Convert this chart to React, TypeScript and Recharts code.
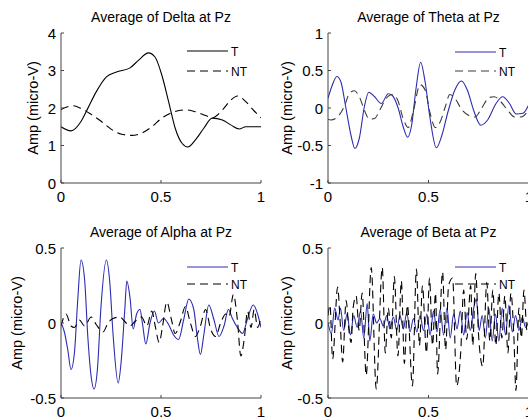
import React from 'react';
import { LineChart, Line, XAxis, YAxis, Legend } from 'recharts';

type P = [number, number];

const xTicks = [0, 0.5, 1];
const deltaTicks = [0, 1, 2, 3, 4];
const thetaTicks = [-1, -0.5, 0, 0.5, 1];
const alphaTicks = [-0.5, 0, 0.5];
const betaTicks = [-0.5, 0, 0.5];

const titles = ['Average of Delta at Pz', 'Average of Theta at Pz', 'Average of Alpha at Pz', 'Average of Beta at Pz'];
const yLabel = 'Amp (micro-V)';
const seriesNames = ['T', 'NT'];

const deltaT: P[] = [[0,1.5],[0.05,1.39],[0.1,1.64],[0.134,1.99],[0.176,2.43],[0.227,2.83],[0.277,2.96],[0.345,3.07],[0.387,3.27],[0.437,3.47],[0.47,3.36],[0.504,2.88],[0.538,2.17],[0.571,1.46],[0.605,1.06],[0.635,0.96],[0.672,1.15],[0.714,1.46],[0.756,1.73],[0.807,1.68],[0.849,1.55],[0.891,1.44],[0.924,1.5],[0.958,1.5],[1,1.5]];
const deltaNT: P[] = [[0,1.96],[0.059,2.06],[0.1,1.99],[0.151,1.83],[0.202,1.64],[0.252,1.43],[0.303,1.3],[0.353,1.27],[0.403,1.33],[0.454,1.5],[0.504,1.73],[0.555,1.88],[0.622,1.95],[0.672,1.9],[0.723,1.8],[0.756,1.74],[0.807,1.95],[0.849,2.21],[0.882,2.32],[0.924,2.17],[0.966,1.92],[1,1.74]];

const thetaT: P[] = [[0,0.13],[0.022,0.31],[0.044,0.42],[0.064,0.35],[0.089,0],[0.114,-0.36],[0.134,-0.54],[0.156,-0.4],[0.181,0.02],[0.203,0.21],[0.232,0.15],[0.265,0.06],[0.3,0.19],[0.319,0.17],[0.349,0],[0.374,-0.25],[0.396,-0.39],[0.416,-0.23],[0.438,0.26],[0.461,0.61],[0.483,0.35],[0.508,-0.14],[0.539,-0.53],[0.567,-0.36],[0.597,-0.05],[0.631,0.24],[0.664,0.36],[0.693,0.24],[0.727,-0.05],[0.76,-0.23],[0.794,-0.16],[0.836,0.06],[0.869,0.15],[0.903,0.06],[0.936,-0.08],[0.97,-0.07],[1,0.05]];
const thetaNT: P[] = [[0,-0.15],[0.013,-0.16],[0.047,-0.12],[0.081,0.02],[0.106,0.19],[0.131,0.23],[0.156,0.15],[0.181,-0.03],[0.206,-0.15],[0.232,-0.14],[0.257,-0.03],[0.29,0.13],[0.32,0.18],[0.346,0.11],[0.374,-0.14],[0.399,-0.26],[0.424,-0.05],[0.458,0.31],[0.483,0.24],[0.508,-0.07],[0.534,-0.26],[0.559,-0.18],[0.584,0.02],[0.606,0.18],[0.631,0.13],[0.668,-0.03],[0.701,-0.1],[0.732,-0.12],[0.765,0],[0.802,0.14],[0.827,0.15],[0.861,0.08],[0.894,-0.03],[0.928,-0.12],[0.961,-0.12],[0.995,-0.04]];

const alphaT: P[] = [[0,0],[0.017,-0.06],[0.034,-0.18],[0.05,-0.31],[0.067,-0.2],[0.084,0.16],[0.1,0.42],[0.118,0.29],[0.134,-0.09],[0.151,-0.36],[0.165,-0.44],[0.182,-0.31],[0.2,0.11],[0.227,0.42],[0.244,0.27],[0.26,-0.07],[0.286,-0.4],[0.3,-0.27],[0.319,0.09],[0.329,0.28],[0.345,0.17],[0.361,-0.04],[0.378,0.06],[0.395,0.09],[0.408,-0.01],[0.424,-0.14],[0.445,0],[0.467,0.08],[0.487,0],[0.513,0.03],[0.538,-0.01],[0.563,-0.08],[0.588,-0.11],[0.613,0.02],[0.639,0.16],[0.664,0.09],[0.681,-0.09],[0.697,-0.21],[0.714,-0.08],[0.739,0.12],[0.765,0.02],[0.79,-0.09],[0.815,-0.02],[0.837,0.09],[0.857,0.03],[0.882,-0.03],[0.908,-0.07],[0.933,0.03],[0.961,0.12],[0.983,0.06],[1,-0.03]];
const alphaNT: P[] = [[0,-0.02],[0.025,0.06],[0.05,-0.02],[0.067,-0.03],[0.092,0.02],[0.118,-0.02],[0.151,0.04],[0.176,-0.01],[0.21,-0.06],[0.235,0],[0.26,0.03],[0.294,0.04],[0.319,0.01],[0.345,-0.02],[0.37,0.01],[0.403,0.04],[0.429,-0.02],[0.454,0.08],[0.471,-0.02],[0.491,-0.13],[0.508,-0.02],[0.529,0.14],[0.551,0.03],[0.571,-0.07],[0.597,0.01],[0.622,0.11],[0.647,0],[0.672,-0.09],[0.697,-0.02],[0.723,0.09],[0.748,-0.04],[0.773,-0.09],[0.798,0],[0.824,0.06],[0.84,0.04],[0.862,0.19],[0.882,0.02],[0.899,-0.22],[0.916,-0.11],[0.933,0.08],[0.95,-0.03],[0.966,0.09],[0.983,-0.03],[1,0.04]];

const betaT: P[] = [[0,0],[0.017,-0.07],[0.033,0.1],[0.05,0.02],[0.062,0.1],[0.078,-0.05],[0.095,0.06],[0.112,-0.08],[0.128,0.05],[0.145,-0.03],[0.162,0.08],[0.178,-0.1],[0.195,0.13],[0.208,-0.12],[0.225,0.06],[0.242,0],[0.258,0.03],[0.275,-0.02],[0.292,0.05],[0.308,-0.04],[0.325,0.04],[0.342,-0.05],[0.358,0.05],[0.375,-0.04],[0.392,0.07],[0.408,-0.06],[0.425,0.03],[0.442,-0.06],[0.458,0.05],[0.475,-0.05],[0.492,0.06],[0.508,-0.08],[0.525,0.08],[0.542,-0.06],[0.558,0.09],[0.575,-0.08],[0.592,0.1],[0.608,-0.1],[0.625,0.06],[0.642,-0.04],[0.658,0.08],[0.675,-0.08],[0.692,0.07],[0.708,-0.05],[0.725,0.1],[0.738,0.16],[0.752,-0.05],[0.767,0.05],[0.783,-0.1],[0.8,0.1],[0.817,-0.12],[0.833,0.06],[0.85,-0.12],[0.867,0.1],[0.883,-0.08],[0.9,0.12],[0.917,-0.06],[0.933,0.05],[0.95,-0.05],[0.967,0.04],[0.983,-0.03],[1,0.02]];
const betaNT: P[] = [[0,0.05],[0.01,0.12],[0.023,-0.24],[0.048,0.24],[0.06,0.02],[0.073,-0.26],[0.09,0.15],[0.105,-0.06],[0.115,-0.13],[0.125,0.1],[0.14,0.18],[0.155,-0.05],[0.17,0.2],[0.19,-0.35],[0.215,0.37],[0.24,-0.44],[0.27,0.37],[0.285,-0.2],[0.3,0.1],[0.315,-0.1],[0.33,0.31],[0.348,-0.22],[0.365,0.28],[0.38,-0.27],[0.395,0.12],[0.42,-0.42],[0.44,0.36],[0.455,-0.15],[0.47,0.25],[0.49,-0.2],[0.505,0.3],[0.52,-0.15],[0.535,0.2],[0.545,-0.34],[0.57,0.34],[0.585,-0.18],[0.6,0.25],[0.62,0.3],[0.64,-0.42],[0.66,-0.2],[0.675,0.22],[0.69,-0.11],[0.71,0.25],[0.72,-0.15],[0.735,0.33],[0.75,-0.1],[0.77,-0.29],[0.79,0.27],[0.805,-0.12],[0.82,0.22],[0.835,-0.15],[0.85,0.2],[0.865,-0.1],[0.88,0.18],[0.895,-0.2],[0.91,0.2],[0.925,-0.1],[0.935,-0.45],[0.95,0.1],[0.962,-0.1],[0.975,0.22],[0.99,-0.05],[1,0.02]];

const FONT = '"Liberation Sans", Arial, Helvetica, sans-serif';
const FRAME = '#444444';
const BLUE = '#2c2cb0';
const BLACK = '#000000';
const GRAY = '#3c3c3c';
const DASH = '8 5';
const TICK_LEN = 3;

const toRows = (pts: P[]) => pts.map(([x, y]) => ({ x, y }));
const fmt = (v: number) => String(v);

const BottomTick = (p: any) => (
  <g>
    <line x1={p.x} x2={p.x} y1={p.y} y2={p.y - TICK_LEN} stroke={FRAME} />
    <text x={p.x} y={p.y + 19} textAnchor="middle" fontSize={15} fontFamily={FONT} fill="#000">{fmt(p.payload.value)}</text>
  </g>
);
const TopTick = (p: any) => (
  <line x1={p.x} x2={p.x} y1={p.y} y2={p.y + TICK_LEN} stroke={FRAME} />
);
const LeftTick = (p: any) => (
  <g>
    <line x1={p.x} x2={p.x + TICK_LEN} y1={p.y} y2={p.y} stroke={FRAME} />
    <text x={p.x - 5} y={p.y + 5.5} textAnchor="end" fontSize={15} fontFamily={FONT} fill="#000">{fmt(p.payload.value)}</text>
  </g>
);
const RightTick = (p: any) => (
  <line x1={p.x} x2={p.x - TICK_LEN} y1={p.y} y2={p.y} stroke={FRAME} />
);

type Series = { name: string; pts: P[]; color: string; dash?: string };

type PanelProps = {
  left: number; top: number; plotLeft: number; plotRight: number;
  title: string; yDomain: [number, number]; yTicks: number[];
  series: Series[]; ylabelX: number; legendLeft: number; legendTop: number; legendGap: number;
};

const W = 270;
const H = 210;
const PLOT_TOP = 33;
const PLOT_BOTTOM = 183;

function Panel(props: PanelProps) {
  const { left, top, plotLeft, plotRight, title, yDomain, yTicks, series, ylabelX, legendLeft, legendTop, legendGap } = props;
  const legendContent = () => (
    <svg width={90} height={50} style={{ display: 'block', overflow: 'visible' }}>
      {series.map((s, i) => {
        const y = 9 + i * legendGap;
        return (
          <g key={s.name}>
            <line x1={0} x2={41} y1={y} y2={y} stroke={s.color} strokeWidth={1.2} strokeDasharray={s.dash} />
            <text x={44} y={y + 4.5} fontSize={12} fontFamily={FONT} fill="#000">{s.name}</text>
          </g>
        );
      })}
    </svg>
  );
  return (
    <div style={{ position: 'absolute', left, top, width: W, height: H }}>
      <LineChart width={W} height={H} margin={{ top: PLOT_TOP, left: plotLeft - 30, right: W - plotRight, bottom: H - PLOT_BOTTOM - 20 }}>
        <XAxis xAxisId="b" type="number" dataKey="x" domain={[0, 1]} ticks={xTicks} interval={0} orientation="bottom" height={20}
          tickSize={0} tickMargin={0} tick={<BottomTick />} tickLine={false} axisLine={{ stroke: FRAME }} allowDataOverflow />
        <XAxis xAxisId="t" type="number" dataKey="x" domain={[0, 1]} ticks={xTicks} interval={0} orientation="top" height={0}
          tickSize={0} tickMargin={0} tick={<TopTick />} tickLine={false} axisLine={{ stroke: FRAME }} allowDataOverflow />
        <YAxis yAxisId="l" type="number" domain={yDomain} ticks={yTicks} interval={0} orientation="left" width={30}
          tickSize={0} tickMargin={0} tick={<LeftTick />} tickLine={false} axisLine={{ stroke: FRAME }} allowDataOverflow />
        <YAxis yAxisId="r" type="number" domain={yDomain} ticks={yTicks} interval={0} orientation="right" width={0}
          tickSize={0} tickMargin={0} tick={<RightTick />} tickLine={false} axisLine={{ stroke: FRAME }} allowDataOverflow />
        {series.map((s) => (
          <Line key={s.name} xAxisId="b" yAxisId="l" data={toRows(s.pts)} dataKey="y" name={s.name} type="monotone"
            stroke={s.color} strokeWidth={1.1} strokeDasharray={s.dash} dot={false} activeDot={false} isAnimationActive={false} />
        ))}
        <Legend layout="vertical" align="center" verticalAlign="middle" content={legendContent}
          wrapperStyle={{ left: legendLeft, top: legendTop, width: 90, height: 50 }} />
        <text x={(plotLeft + plotRight) / 2} y={22} textAnchor="middle" fontSize={14} fontFamily={FONT} fill="#000">{title}</text>
        <text transform={`translate(${ylabelX + 5},${(PLOT_TOP + PLOT_BOTTOM) / 2}) rotate(-90)`} textAnchor="middle" fontSize={14.5} fontFamily={FONT} fill="#000">{yLabel}</text>
      </LineChart>
    </div>
  );
}

export default function App() {
  return (
    <div style={{ position: 'fixed', left: 0, top: 0, width: 528, height: 419, overflow: 'hidden', background: '#ffffff' }}>
      <Panel left={0} top={0} plotLeft={61} plotRight={261} title={titles[0]} yDomain={[0, 4]} yTicks={deltaTicks}
        series={[{ name: seriesNames[0], pts: deltaT, color: BLACK }, { name: seriesNames[1], pts: deltaNT, color: BLACK, dash: DASH }]}
        ylabelX={33} legendLeft={187} legendTop={42} legendGap={20} />
      <Panel left={264} top={0} plotLeft={64} plotRight={265} title={titles[1]} yDomain={[-1, 1]} yTicks={thetaTicks}
        series={[{ name: seriesNames[0], pts: thetaT, color: BLUE }, { name: seriesNames[1], pts: thetaNT, color: GRAY, dash: DASH }]}
        ylabelX={23} legendLeft={191} legendTop={43} legendGap={19} />
      <Panel left={0} top={215} plotLeft={61} plotRight={261} title={titles[2]} yDomain={[-0.5, 0.5]} yTicks={alphaTicks}
        series={[{ name: seriesNames[0], pts: alphaT, color: BLUE }, { name: seriesNames[1], pts: alphaNT, color: BLACK, dash: DASH }]}
        ylabelX={17} legendLeft={187} legendTop={43} legendGap={17} />
      <Panel left={264} top={215} plotLeft={64} plotRight={265} title={titles[3]} yDomain={[-0.5, 0.5]} yTicks={betaTicks}
        series={[{ name: seriesNames[0], pts: betaT, color: BLUE }, { name: seriesNames[1], pts: betaNT, color: BLACK, dash: DASH }]}
        ylabelX={23} legendLeft={191} legendTop={43} legendGap={17} />
    </div>
  );
}
